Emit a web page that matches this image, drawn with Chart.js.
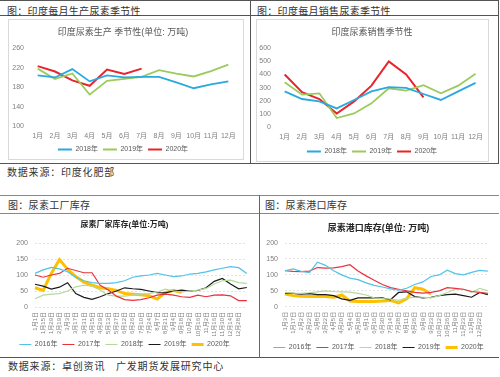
<!DOCTYPE html>
<html>
<head>
<meta charset="utf-8">
<script src="https://cdn.jsdelivr.net/npm/chart.js@4"></script>
<style>
  body { margin:0; width:500px; height:377px; background:#fff; position:relative; overflow:hidden; font-family:"Noto Sans CJK SC", sans-serif; }
  .hl { position:absolute; height:1px; background:#555; }
  .vl { position:absolute; width:1px; background:#555; }
  .box { position:absolute; border:1px solid #d9d9d9; box-sizing:border-box; }
  .txt { position:absolute; font-size:10px; line-height:12px; color:#333; letter-spacing:0.3px; white-space:nowrap; }
  .src { letter-spacing:0.8px; }
  canvas { position:absolute; }
</style>
</head>
<body>
<div class="hl" style="left:0;top:0;width:499px"></div>
<div class="hl" style="left:0;top:15px;width:499px"></div>
<div class="hl" style="left:0;top:163px;width:499px"></div>
<div class="vl" style="left:250px;top:0;height:164px"></div>
<div class="vl" style="left:498px;top:0;height:164px"></div>
<div class="box" style="left:8px;top:19px;width:236px;height:141px"></div>
<div class="box" style="left:256px;top:19px;width:233px;height:143px"></div>
<div class="hl" style="left:0;top:195px;width:499px;background:#888"></div>
<div class="hl" style="left:0;top:213px;width:499px;background:#888"></div>
<div class="hl" style="left:0;top:357px;width:499px"></div>
<div class="vl" style="left:259px;top:195px;height:163px;background:#666"></div>

<div class="txt" style="left:7px;top:4.5px">图：印度每月生产尿素季节性</div>
<div class="txt" style="left:257px;top:4.5px">图：印度每月销售尿素季节性</div>
<div class="txt src" style="left:7px;top:166px">数据来源：印度化肥部</div>
<div class="txt" style="left:8px;top:198.5px">图：尿素工厂库存</div>
<div class="txt" style="left:265px;top:198.5px">图：尿素港口库存</div>
<div class="txt src" style="left:8px;top:360px">数据来源：卓创资讯　广发期货发展研究中心</div>

<canvas id="prod" width="233" height="143" style="left:9px;top:20px"></canvas>
<canvas id="sales" width="231" height="145" style="left:257px;top:20px"></canvas>
<canvas id="factory" width="259" height="144" style="left:0;top:214px"></canvas>
<canvas id="port" width="241" height="147" style="left:259px;top:214px"></canvas>

<script>
const months = ["1月", "2月", "3月", "4月", "5月", "6月", "7月", "8月", "9月", "10月", "11月", "12月"];

// 印度尿素生产 (万吨)
const prod2018 = [204, 200, 217, 192, 204, 200, 201, 201, 190, 178, 186, 192];
const prod2019 = [218, 197, 208, 165, 193, 197, 201, 215, 208, 202, 213, 226];
const prod2020 = [223, 212, 194, 183, 216, 207, 218];

// 印度尿素销售
const sales2018 = [273, 215, 197, 144, 208, 273, 304, 299, 253, 208, 273, 337];
const sales2019 = [342, 248, 258, 71, 106, 182, 296, 278, 319, 258, 316, 405];
const sales2020 = [400, 266, 215, 106, 197, 316, 499, 400, 228];

// 尿素厂家库存
const factoryDates = ["1月1日", "1月15日", "1月29日", "2月19日", "3月3日", "3月17日", "3月31日", "4月15日", "4月29日",
  "5月13日", "5月27日", "6月12日", "6月26日", "7月10日", "7月24日", "8月7日", "8月21日", "9月4日", "9月18日",
  "10月2日", "10月16日", "11月2日", "11月16日", "11月30日", "12月14日", "12月28日"];
const factory2016 = [105, 116, 124, 119, 110, 93, 82, 76, 74, 74, 76, 82, 93, 97, 100, 105, 100, 95, 97, 103, 105, 110, 116, 121, 126, 123, 105];
const factory2017 = [100, 93, 100, 105, 121, 114, 107, 107, 68, 53, 34, 23, 21, 23, 29, 37, 40, 37, 32, 30, 37, 32, 37, 38, 35, 20, 20];
const factory2018 = [26, 37, 40, 42, 50, 63, 68, 65, 53, 37, 34, 34, 37, 40, 42, 47, 56, 50, 47, 50, 53, 58, 72, 82, 84, 76, 74];
const factory2019 = [71, 65, 56, 62, 76, 42, 30, 24, 32, 42, 50, 60, 57, 55, 50, 45, 44, 50, 53, 50, 52, 60, 80, 89, 72, 57, 61];
const factory2020 = [60, 52, 105, 148, 118, 95, 78, 68, 60, 57, 52, 42, 40, 38, 35, 25, 45, 52, 45, null, null, null, null, null, null, null, null];

// 尿素港口库存
const portDates = ["1月3日", "1月17日", "2月2日", "2月22日", "3月8日", "3月22日", "4月5日", "4月20日", "5月4日", "5月18日",
  "6月1日", "6月16日", "6月30日", "7月14日", "7月28日", "8月11日", "8月26日", "9月9日", "9月23日", "10月12日",
  "10月26日", "11月9日", "11月23日", "12月8日", "12月22日"];
const port2016 = [113, 119, 111, 107, 140, 130, 113, 100, 90, 85, 75, 67, 62, 56, 52, 58, 70, 78, 95, 100, 115, 104, 100, 108, 114, 112];
const port2017 = [113, 111, 110, 112, 123, 121, 122, 126, 132, 112, 97, 83, 70, 60, 55, 50, 45, 43, 45, 50, 60, 58, 55, 48, 45, 42];
const port2018 = [45, 43, 42, 44, 47, 50, 48, 47, 46, 42, 37, 28, 26, 24, 20, 27, 30, 30, 28, 35, 45, 55, 55, 45, 58, 50];
const port2019 = [43, 42, 40, 41, 38, 38, 35, 25, 20, 28, 28, 28, 28, 22, 45, 47, 32, 28, 30, 35, 38, 40, 35, 30, 45, 38];
const port2020 = [40, 35, 33, 32, 32, 32, 30, 37, 18, 17, 17, 17, 18, 20, 12, 25, 60, 55, 40, null, null, null, null, null, null, null];

const FONT = '"Liberation Sans", "Noto Sans CJK SC", sans-serif';
const TICK = "#7f7f7f";

function series(label, data, color, width) {
  return {
    label: label,
    data: data,
    borderColor: color,
    backgroundColor: color,
    borderWidth: width,
    pointRadius: 0,
    tension: 0,
  };
}

function makeChart(id, labels, datasets, o) {
  new Chart(document.getElementById(id), {
    type: "line",
    data: { labels: labels, datasets: datasets },
    options: {
      responsive: false,
      animation: false,
      layout: { padding: { top: o.padTop, right: o.padRight, left: 0, bottom: 0 } },
      plugins: {
        title: {
          display: true,
          text: o.title,
          color: o.titleColor,
          font: { family: FONT, size: o.titleSize, weight: o.titleWeight },
          padding: { top: 0, bottom: o.titleGap },
        },
        legend: {
          position: "bottom",
          labels: {
            color: "#595959",
            font: { family: FONT, size: 7 },
            boxWidth: o.boxWidth,
            boxHeight: 0,
            padding: 5,
          },
        },
        tooltip: { enabled: false },
      },
      scales: {
        x: {
          offset: o.offset,
          grid: { display: false, drawTicks: false },
          border: { display: false },
          ticks: {
            color: TICK,
            font: { family: FONT, size: o.xFont },
            padding: 5,
            autoSkip: false,
            minRotation: o.rotate,
            maxRotation: o.rotate,
            callback: function (v, i) { return i < o.tickCount ? this.getLabelForValue(v) : ""; },
          },
          afterFit: (s) => { s.height = o.xHeight; },
        },
        y: {
          min: o.yMin,
          max: o.yMax,
          grid: { display: o.grid, color: "#e3e3e3", drawTicks: false },
          border: { display: false, dash: [2, 2] },
          ticks: {
            stepSize: o.step,
            color: TICK,
            font: { family: FONT, size: 7 },
            padding: o.yPad,
          },
          afterFit: (s) => { s.width = o.yWidth; },
        },
      },
    },
  });
}

const BLUE = "#2aa8e0", GREEN = "#9bcb5c", RED = "#e8242c";

makeChart("prod", months, [
  series("2018年", prod2018, BLUE, 1.8),
  series("2019年", prod2019, GREEN, 1.8),
  series("2020年", prod2020, RED, 2),
], {
  title: "印度尿素生产 季节性(单位: 万吨)", titleColor: "#595959", titleSize: 9, titleWeight: "normal",
  padTop: 7, padRight: 5, titleGap: 10.2, boxWidth: 14,
  offset: true, rotate: 0, xFont: 7, xHeight: 14.5, tickCount: 12,
  yMin: 100, yMax: 260, step: 40, grid: false, yPad: 5, yWidth: 20,
});

makeChart("sales", months, [
  series("2018年", sales2018, BLUE, 1.8),
  series("2019年", sales2019, GREEN, 1.8),
  series("2020年", sales2020, RED, 2),
], {
  title: "印度尿素销售季节性", titleColor: "#595959", titleSize: 9, titleWeight: "normal",
  padTop: 7, padRight: 1, titleGap: 10.2, boxWidth: 14,
  offset: true, rotate: 0, xFont: 7, xHeight: 15.5, tickCount: 12,
  yMin: 0, yMax: 600, step: 100, grid: false, yPad: 5, yWidth: 19,
});

makeChart("factory", factoryDates.concat([""]), [
  series("2016年", factory2016, "#4fc3e8", 1.2),
  series("2017年", factory2017, "#e8333d", 1.2),
  series("2018年", factory2018, "#b4d99a", 1.2),
  series("2019年", factory2019, "#1a1a1a", 1.2),
  series("2020年", factory2020, "#ffc000", 3),
], {
  title: "尿素厂家库存(单位:万吨)", titleColor: "#262626", titleSize: 8, titleWeight: "bold",
  padTop: 5.6, padRight: 10, titleGap: 13.8, boxWidth: 12,
  offset: false, rotate: 90, xFont: 6, xHeight: 29, tickCount: factoryDates.length,
  yMin: 0, yMax: 200, step: 50, grid: true, yPad: 7, yWidth: 35,
});

makeChart("port", portDates.concat([""]), [
  series("2016年", port2016, "#4fc3e8", 1.2),
  series("2017年", port2017, "#e8333d", 1.2),
  series("2018年", port2018, "#b4d99a", 1.2),
  series("2019年", port2019, "#1a1a1a", 1.2),
  series("2020年", port2020, "#ffc000", 3),
], {
  title: "尿素港口库存(单位: 万吨)", titleColor: "#262626", titleSize: 9, titleWeight: "bold",
  padTop: 9.6, padRight: 2, titleGap: 8.6, boxWidth: 12,
  offset: false, rotate: 90, xFont: 6, xHeight: 32.2, tickCount: portDates.length,
  yMin: 0, yMax: 200, step: 50, grid: true, yPad: 7, yWidth: 26,
});
</script>
</body>
</html>
